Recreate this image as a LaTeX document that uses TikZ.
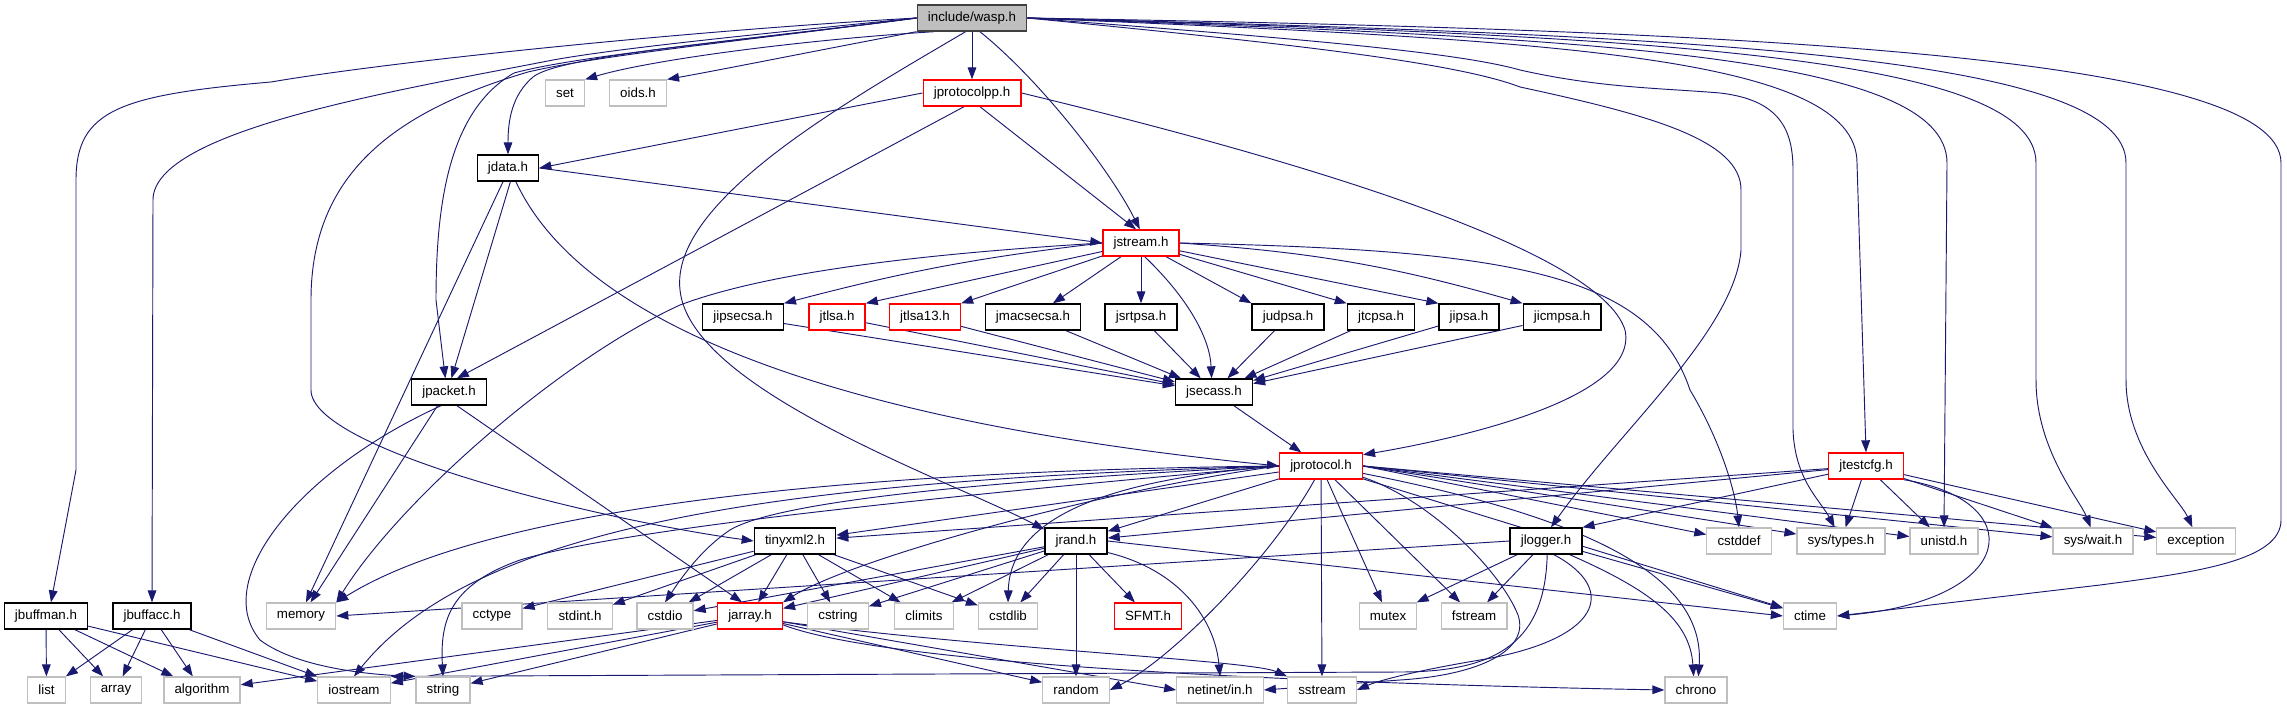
\documentclass[tikz,border=0pt]{standalone}
\usepackage{fontspec}
\setmainfont{Liberation Sans}
\usetikzlibrary{arrows.meta}
\definecolor{edgeblue}{RGB}{25,25,112}
\definecolor{extgray}{RGB}{191,191,191}
\definecolor{truncred}{RGB}{255,0,0}
\pgfdeclarelayer{background}
\pgfsetlayers{background,main}

\begin{document}
\begin{tikzpicture}[x=0.75pt,y=-0.75pt,
    hdr/.style={draw=black,fill=white,line width=1pt,inner xsep=8pt,inner ysep=0pt,
                minimum height=19.5pt,font=\fontsize{10}{12}\selectfont},
    ext/.style={hdr,draw=extgray,line width=0.9pt},
    trunc/.style={hdr,draw=truncred},
    root/.style={hdr,fill=extgray,draw=black!75},
    inc/.style={draw=edgeblue,line width=0.7pt,-{Triangle[length=9pt,width=6.5pt]}}]

    \useasboundingbox (0,0) rectangle (2287,709);

    % Fichier de tête
    \node[root] (wasp) at (972,18) {include/wasp.h};

    % Premier niveau
    \node[ext] (set) at (565,93) {set};
    \node[ext] (oids) at (638,93) {oids.h};
    \node[trunc] (jprotocolpp) at (972,93) {jprotocolpp.h};
    \node[hdr] (jdata) at (508,168) {jdata.h};
    \node[trunc] (jstream) at (1141,243) {jstream.h};

    % Associations de sécurité
    \node[hdr] (jipsecsa) at (743,317) {jipsecsa.h};
    \node[trunc] (jtlsa) at (837,317) {jtlsa.h};
    \node[trunc] (jtlsa13) at (925,317) {jtlsa13.h};
    \node[hdr] (jmacsecsa) at (1033,317) {jmacsecsa.h};
    \node[hdr] (jsrtpsa) at (1141,317) {jsrtpsa.h};
    \node[hdr] (judpsa) at (1288,317) {judpsa.h};
    \node[hdr] (jtcpsa) at (1381,317) {jtcpsa.h};
    \node[hdr] (jipsa) at (1469,317) {jipsa.h};
    \node[hdr] (jicmpsa) at (1562,317) {jicmpsa.h};

    \node[hdr] (jpacket) at (449,392) {jpacket.h};
    \node[hdr] (jsecass) at (1214,392) {jsecass.h};
    \node[trunc] (jprotocol) at (1321,466) {jprotocol.h};
    \node[trunc] (jtestcfg) at (1866,466) {jtestcfg.h};

    % Rangée du milieu
    \node[hdr] (tinyxml) at (795,541) {tinyxml2.h};
    \node[hdr] (jrand) at (1076,541) {jrand.h};
    \node[hdr] (jlogger) at (1546,541) {jlogger.h};
    \node[ext] (cstddef) at (1739,541) {cstddef};
    \node[ext] (systypes) at (1841,541) {sys/types.h};
    \node[ext] (unistd) at (1944,541) {unistd.h};
    \node[ext] (syswait) at (2093,541) {sys/wait.h};
    \node[ext] (exception) at (2196,541) {exception};

    \node[hdr] (jbuffman) at (46,616) {jbuffman.h};
    \node[hdr] (jbuffacc) at (152,616) {jbuffacc.h};
    \node[ext] (memory) at (301,616) {memory};
    \node[ext] (cctype) at (492,616) {cctype};
    \node[ext] (stdint) at (580,616) {stdint.h};
    \node[ext] (cstdio) at (665,616) {cstdio};
    \node[trunc] (jarray) at (750,616) {jarray.h};
    \node[ext] (cstring) at (838,616) {cstring};
    \node[ext] (climits) at (924,616) {climits};
    \node[ext] (cstdlib) at (1008,616) {cstdlib};
    \node[trunc] (sfmt) at (1148,616) {SFMT.h};
    \node[ext] (mutex) at (1388,616) {mutex};
    \node[ext] (fstream) at (1474,616) {fstream};
    \node[ext] (ctime) at (1810,616) {ctime};

    % Bibliothèque standard, dernière rangée
    \node[ext] (list) at (46.5,690) {list};
    \node[ext] (array) at (116,690) {array};
    \node[ext] (algorithm) at (202,690) {algorithm};
    \node[ext] (iostream) at (354,690) {iostream};
    \node[ext] (string) at (443,690) {string};
    \node[ext] (random) at (1076,690) {random};
    \node[ext] (netinet) at (1220,690) {netinet/in.h};
    \node[ext] (sstream) at (1322,690) {sstream};
    \node[ext] (chrono) at (1696,690) {chrono};

    \begin{pgfonlayer}{background}
    % Inclusions de wasp.h vers la gauche
    \draw[inc] (wasp.200) .. controls (800,40) and (650,60) .. (set.north east);
    \draw[inc] (wasp.south west) .. controls (820,50) and (720,70) .. (oids.north east);
    \draw[inc] (wasp.west) .. controls (750,40) and (560,55) .. (533,77) .. controls (512,95) and (508,120) .. (jdata.north);
    \draw[inc] (wasp.west) .. controls (750,40) and (580,55) .. (514,73) .. controls (450,110) and (436,200) .. (436,300) -- (jpacket.105);
    \draw[inc] (wasp.west) .. controls (750,40) and (600,55) .. (528,72) .. controls (400,110) and (311,170) .. (311,300) -- (311,390) .. controls (311,450) and (600,520) .. (tinyxml.west);
    \draw[inc] (wasp.west) .. controls (750,35) and (620,48) .. (553,60) .. controls (400,90) and (153,130) .. (153,200) -- (jbuffacc.north);
    \draw[inc] (wasp.west) .. controls (700,30) and (400,60) .. (271,82) .. controls (120,95) and (76,110) .. (76,180) -- (76,470) -- (jbuffman.70);
    \draw[inc] (wasp.-115) .. controls (850,100) and (670,200) .. (680,290) .. controls (690,390) and (950,480) .. (jrand.160);
    \draw[inc] (wasp) -- (jprotocolpp);
    \draw[inc] (wasp.-60) .. controls (1040,80) and (1110,170) .. (jstream.95);

    % Inclusions de wasp.h vers la droite
    \draw[inc] (wasp.east) .. controls (1250,40) and (1450,60) .. (1520,87) .. controls (1650,115) and (1741,140) .. (1741,190) -- (1741,250) .. controls (1735,330) and (1620,430) .. (jlogger.70);
    \draw[inc] (wasp.east) .. controls (1250,35) and (1450,50) .. (1520,70) .. controls (1600,88) and (1660,88) .. (1720,93) .. controls (1780,100) and (1793,130) .. (1793,170) -- (1793,430) .. controls (1795,480) and (1820,500) .. (systypes.115);
    \draw[inc] (wasp.east) .. controls (1550,40) and (1857,55) .. (1857,163) -- (jtestcfg.north);
    \draw[inc] (wasp.east) .. controls (1600,38) and (1947,55) .. (1947,163) -- (unistd.north);
    \draw[inc] (wasp.east) .. controls (1650,36) and (2036,55) .. (2036,163) -- (2036,380) .. controls (2036,450) and (2080,500) .. (syswait.100);
    \draw[inc] (wasp.east) .. controls (1700,35) and (2126,55) .. (2126,163) -- (2126,380) .. controls (2126,450) and (2180,500) .. (exception.105);
    \draw[inc] (wasp.east) .. controls (1750,30) and (2281,55) .. (2281,163) -- (2281,520) .. controls (2281,560) and (2200,572) .. (2100,585) -- (ctime.east);

    % jprotocolpp.h et jdata.h
    \draw[inc] (jprotocolpp.west) -- (jdata.east);
    \draw[inc] (jprotocolpp.-120) -- (jpacket.60);
    \draw[inc] (jprotocolpp.-60) -- (jstream.110);
    \draw[inc] (jprotocolpp.east) .. controls (1300,160) and (1600,250) .. (1625,330) .. controls (1640,400) and (1450,440) .. (jprotocol.15);
    \draw[inc] (jdata.east) -- (jstream.west);
    \draw[inc] (jdata.-80) -- (jpacket.80);
    \draw[inc] (jdata.-110) -- (memory.70);
    \draw[inc] (jdata.-60) .. controls (580,320) and (820,420) .. (jprotocol.west);

    % jstream.h
    \draw[inc] (jstream.west) to[bend right=4] (jipsecsa.north east);
    \draw[inc] (jstream) -- (jtlsa.north east);
    \draw[inc] (jstream) -- (jtlsa13.north east);
    \draw[inc] (jstream) -- (jmacsecsa);
    \draw[inc] (jstream) -- (jsrtpsa);
    \draw[inc] (jstream) -- (judpsa.north west);
    \draw[inc] (jstream) -- (jtcpsa.north west);
    \draw[inc] (jstream) -- (jipsa.north west);
    \draw[inc] (jstream.east) to[bend left=6] (jicmpsa.north west);
    \draw[inc] (jstream.-75) .. controls (1190,300) and (1210,340) .. (jsecass.100);
    \draw[inc] (jstream.west) .. controls (900,255) and (760,275) .. (680,305) .. controls (560,360) and (400,500) .. (memory.north east);
    \draw[inc] (jstream.east) .. controls (1500,250) and (1650,270) .. (1690,390) .. controls (1720,440) and (1735,490) .. (cstddef.north);

    % Vers jsecass.h
    \foreach \sa in {jipsecsa,jtlsa,jtlsa13,jmacsecsa,jsrtpsa,judpsa,jtcpsa,jipsa,jicmpsa}
        \draw[inc] (\sa) -- (jsecass);
    \draw[inc] (jsecass) -- (jprotocol);

    % jpacket.h
    \draw[inc] (jpacket.-130) -- (memory.55);
    \draw[inc] (jpacket.-60) -- (jarray.120);
    \draw[inc] (jpacket.-120) .. controls (300,470) and (210,580) .. (260,640) .. controls (300,670) and (380,675) .. (string.north west);

    % jprotocol.h
    \draw[inc] (jprotocol) -- (tinyxml);
    \draw[inc] (jprotocol) -- (jrand);
    \draw[inc] (jprotocol.west) .. controls (1100,490) and (850,560) .. (jarray.north east);
    \draw[inc] (jprotocol.west) .. controls (900,470) and (500,500) .. (memory.north east);
    \draw[inc] (jprotocol.west) .. controls (800,480) and (480,520) .. (iostream.north);
    \draw[inc] (jprotocol.west) .. controls (900,500) and (620,530) .. (520,560) .. controls (450,585) and (440,620) .. (string.north);
    \draw[inc] (jprotocol.west) .. controls (1000,480) and (780,500) .. (730,530) .. controls (700,550) and (680,580) .. (cstdio.north);
    \draw[inc] (jprotocol.west) .. controls (1100,480) and (1010,520) .. (cstdlib.north);
    \draw[inc] (jprotocol.-115) .. controls (1270,560) and (1170,660) .. (random.east);
    \draw[inc] (jprotocol) -- (sstream);
    \draw[inc] (jprotocol) -- (mutex);
    \draw[inc] (jprotocol) -- (fstream);
    \draw[inc] (jprotocol.-15) .. controls (1430,500) and (1500,570) .. (1518,615) .. controls (1530,650) and (1480,675) .. (1400,680) -- (netinet.east);
    \draw[inc] (jprotocol.-10) .. controls (1600,520) and (1705,580) .. (chrono.80);
    \draw[inc] (jprotocol) -- (ctime);
    \foreach \tgt in {cstddef,systypes,unistd,syswait,exception}
        \draw[inc] (jprotocol.east) -- (\tgt);

    % jtestcfg.h
    \draw[inc] (jtestcfg) -- (tinyxml);
    \draw[inc] (jtestcfg) -- (jrand);
    \draw[inc] (jtestcfg) -- (jlogger.north east);
    \foreach \tgt in {systypes,unistd,syswait,exception}
        \draw[inc] (jtestcfg) -- (\tgt);
    \draw[inc] (jtestcfg.-20) .. controls (2030,500) and (2020,600) .. (ctime.east);

    % tinyxml2.h et jrand.h
    \foreach \tgt in {cctype,stdint,cstdio,jarray,cstring,climits,cstdlib}
        \draw[inc] (tinyxml) -- (\tgt);
    \foreach \tgt in {jarray,cstdio,cstring,climits,cstdlib,sfmt,random}
        \draw[inc] (jrand) -- (\tgt);
    \draw[inc] (jrand.-20) .. controls (1180,570) and (1215,620) .. (netinet.north);
    \draw[inc] (jrand.east) -- (ctime.west);

    % jlogger.h
    \draw[inc] (jlogger.west) -- (memory.east);
    \draw[inc] (jlogger) -- (mutex);
    \draw[inc] (jlogger) -- (fstream);
    \draw[inc] (jlogger) -- (ctime);
    \draw[inc] (jlogger.-30) .. controls (1650,590) and (1690,620) .. (chrono.100);
    \draw[inc] (jlogger.-60) .. controls (1620,590) and (1600,640) .. (1480,660) .. controls (1420,670) and (1380,680) .. (sstream.east);
    \draw[inc] (jlogger.-85) .. controls (1545,640) and (1500,672) .. (1400,672) -- (iostream.north east);

    % jarray.h
    \draw[inc] (jarray) -- (algorithm);
    \draw[inc] (jarray) -- (iostream);
    \draw[inc] (jarray) -- (string);
    \draw[inc] (jarray) -- (random);
    \draw[inc] (jarray) -- (netinet.west);
    \draw[inc] (jarray.-10) .. controls (1000,650) and (1250,660) .. (sstream.north west);
    \draw[inc] (jarray.-15) .. controls (900,670) and (1400,685) .. (chrono.west);

    % Tampons
    \foreach \tgt in {list,array,algorithm,iostream} {
        \draw[inc] (jbuffman) -- (\tgt);
        \draw[inc] (jbuffacc) -- (\tgt);
    }
    \end{pgfonlayer}
\end{tikzpicture}
\end{document}
